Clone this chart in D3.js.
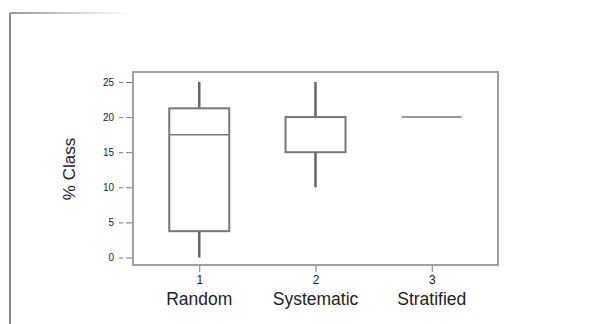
<!DOCTYPE html>
<html><head><meta charset="utf-8">
<script src="https://cdn.jsdelivr.net/npm/d3@7"></script>
<style>body{margin:0;background:#fff}svg{display:block}</style>
</head><body>
<svg id="c" width="613" height="324"></svg>
<script>
const categories = ["Random", "Systematic", "Stratified"];
const positions = [1, 2, 3];
const whiskerLow = [0, 10, 20];
const q1 = [3.75, 15, 20];
const median = [17.5, 20, 20];
const q3 = [21.25, 20, 20];
const whiskerHigh = [25, 25, 20];
const yTicks = [0, 5, 10, 15, 20, 25];
const yLabel = "% Class";

const svg = d3.select("#c");
const fr = {l: 133, r: 498, t: 72, b: 265};
const x = d3.scaleLinear().domain([0.43, 3.57]).range([fr.l, fr.r]);
const y = d3.scaleLinear().domain([0, 25]).range([257.5, 82]);
const boxW = 60;
const font = "Liberation Sans, Arial, sans-serif";

// window-like border
svg.append("line").attr("x1", 10).attr("x2", 10).attr("y1", 13).attr("y2", 324)
  .attr("stroke", "#888").attr("stroke-width", 2);
const g0 = svg.append("defs").append("linearGradient").attr("id", "tg");
g0.append("stop").attr("offset", "0%").attr("stop-color", "#999");
g0.append("stop").attr("offset", "100%").attr("stop-color", "#fff");
svg.append("rect").attr("x", 10).attr("y", 12).attr("width", 120).attr("height", 2).attr("fill", "url(#tg)");

// frame
svg.append("rect").attr("x", fr.l).attr("y", fr.t).attr("width", fr.r - fr.l).attr("height", fr.b - fr.t)
  .attr("fill", "none").attr("stroke", "#a0a0a0").attr("stroke-width", 2);

// y axis
const ya = svg.append("g").attr("transform", `translate(${fr.l - 1},0)`)
  .call(d3.axisLeft(y).tickValues(yTicks).tickSize(13).tickPadding(5));
ya.select(".domain").remove();
ya.selectAll("line").attr("stroke", "#777").attr("stroke-dasharray", "6,3");
ya.selectAll("text").attr("font-family", font).attr("font-size", 10).attr("fill", "#222");

// x axis
const xa = svg.append("g").attr("transform", `translate(0,${fr.b + 1})`)
  .call(d3.axisBottom(x).tickValues(positions).tickFormat(d3.format("d")).tickSize(6).tickPadding(3));
xa.select(".domain").remove();
xa.selectAll("line").attr("stroke", "#777");
xa.selectAll("text").attr("font-family", font).attr("font-size", 12).attr("fill", "#222");

svg.append("g").selectAll("text").data(categories).join("text")
  .attr("x", (d, i) => x(positions[i])).attr("y", 305)
  .attr("text-anchor", "middle")
  .attr("font-family", font).attr("font-size", 17.5).attr("fill", "#222")
  .text(d => d);

svg.append("text").attr("transform", "translate(75,169) rotate(-90)")
  .attr("text-anchor", "middle")
  .attr("font-family", font).attr("font-size", 17).attr("fill", "#222")
  .text(yLabel);

// boxes
const bg = svg.append("g");
categories.forEach((c, i) => {
  const cx = x(positions[i]);
  bg.append("line").attr("x1", cx).attr("x2", cx).attr("y1", y(whiskerHigh[i])).attr("y2", y(q3[i]))
    .attr("stroke", "#666").attr("stroke-width", 2.5);
  bg.append("line").attr("x1", cx).attr("x2", cx).attr("y1", y(q1[i])).attr("y2", y(whiskerLow[i]))
    .attr("stroke", "#666").attr("stroke-width", 2.5);
  if (q3[i] > q1[i]) {
    bg.append("rect").attr("x", cx - boxW / 2).attr("width", boxW)
      .attr("y", y(q3[i])).attr("height", y(q1[i]) - y(q3[i]))
      .attr("fill", "none").attr("stroke", "#777").attr("stroke-width", 2);
  }
  bg.append("line").attr("x1", cx - boxW / 2).attr("x2", cx + boxW / 2)
    .attr("y1", y(median[i])).attr("y2", y(median[i]))
    .attr("stroke", "#777").attr("stroke-width", 1.5);
});
</script>
</body></html>
